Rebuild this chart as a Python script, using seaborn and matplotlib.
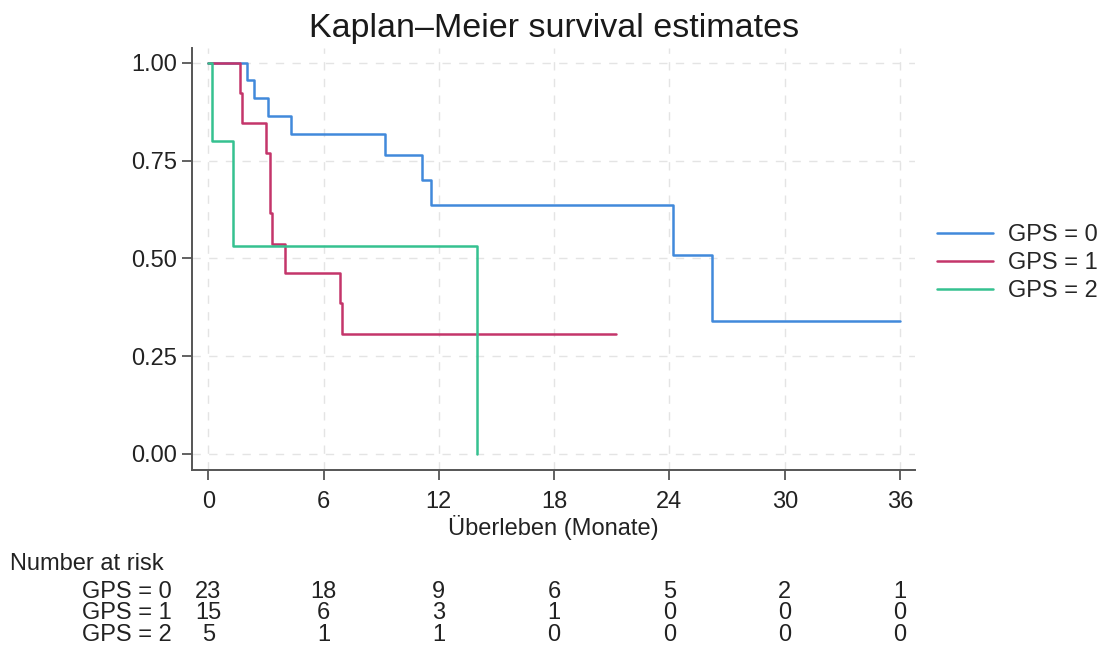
import numpy as np
import pandas as pd
import matplotlib
matplotlib.use("Agg")
import matplotlib.pyplot as plt
import matplotlib.transforms as mtransforms
import seaborn as sns

# ---- data ----
groups = ["GPS = 0", "GPS = 1", "GPS = 2"]
t_gps0 = [0, 2.0, 2.36, 3.09, 4.3, 9.2, 11.1, 11.6, 24.2, 26.2, 36.0]
s_gps0 = [1.0, 0.955, 0.909, 0.864, 0.818, 0.764, 0.700, 0.636, 0.509, 0.339, 0.339]
t_gps1 = [0, 1.66, 1.75, 2.98, 3.19, 3.30, 4.0, 6.87, 6.96, 21.2]
s_gps1 = [1.0, 0.923, 0.846, 0.769, 0.615, 0.538, 0.462, 0.385, 0.308, 0.308]
t_gps2 = [0, 0.19, 1.27, 14.0]
s_gps2 = [1.0, 0.800, 0.533, 0.0]

risk_times = [0, 6, 12, 18, 24, 30, 36]
risk_gps0 = [23, 18, 9, 6, 5, 2, 1]
risk_gps1 = [15, 6, 3, 1, 0, 0, 0]
risk_gps2 = [5, 1, 1, 0, 0, 0, 0]

xticks = [0, 6, 12, 18, 24, 30, 36]
yticks = [0.0, 0.25, 0.5, 0.75, 1.0]
colors = ["#4189db", "#c4356a", "#35c190"]

frames = []
for g, t, s in zip(groups, [t_gps0, t_gps1, t_gps2], [s_gps0, s_gps1, s_gps2]):
    frames.append(pd.DataFrame({"time": t, "surv": s, "group": g, "order": range(len(t))}))
df = pd.concat(frames, ignore_index=True)

sns.set_theme(style="white")
plt.rcParams["font.family"] = ["Liberation Sans", "DejaVu Sans"]

FS = 17
W, H = 1108, 660
fig = plt.figure(figsize=(W / 100, H / 100), dpi=100)
ax = fig.add_axes([192.3 / W, 1 - 470 / H, (915 - 192.3) / W, (470 - 48) / H])

sns.lineplot(data=df, x="time", y="surv", hue="group", palette=colors,
             estimator=None, sort=False, drawstyle="steps-post",
             linewidth=1.8, ax=ax, legend=True)

ax.set_xlim(-0.83, 36.78)
ax.set_ylim(-0.041, 1.038)
ax.set_xticks(xticks)
ax.set_xticklabels([str(v) for v in xticks])
ax.set_yticks(yticks)
ax.set_yticklabels([f"{v:.2f}" for v in yticks])
ax.tick_params(axis="both", which="major", direction="out", length=7, width=1.3,
               color="#555555", labelsize=FS, labelcolor="#222222",
               bottom=True, left=True)
ax.tick_params(axis="x", pad=8)
ax.tick_params(axis="y", pad=4)

ax.grid(True, color="#e4e4e4", linestyle=(0, (6, 6)), linewidth=1.0)
ax.set_axisbelow(True)
for side in ["top", "right"]:
    ax.spines[side].set_visible(False)
for side in ["left", "bottom"]:
    ax.spines[side].set_color("#555555")
    ax.spines[side].set_linewidth(1.4)

ax.set_xlabel("")
ax.set_ylabel("")
fig.text(554 / W, 1 - 29 / H, "Kaplan\u2013Meier survival estimates",
         ha="center", va="center", fontsize=24.5, color="#1a1a1a")
fig.text(553.5 / W, 1 - 528 / H, "\u00dcberleben (Monate)",
         ha="center", va="center", fontsize=FS, color="#222222")

handles, labels = ax.get_legend_handles_labels()
leg = ax.legend(handles, labels, loc="center left", bbox_to_anchor=(1.017, 0.49),
                frameon=False, fontsize=FS, handlelength=2.4, handletextpad=0.6,
                labelspacing=0.25, borderaxespad=0)
for h in leg.get_lines():
    h.set_linewidth(1.8)

# ---- number at risk table ----
fig.text(10 / W, 1 - 564 / H, "Number at risk", ha="left", va="center",
         fontsize=FS, color="#222222")
trans = mtransforms.blended_transform_factory(ax.transData, fig.transFigure)
row_y = [592, 613, 635]
for g, counts, yy in zip(groups, [risk_gps0, risk_gps1, risk_gps2], row_y):
    fig.text(172 / W, 1 - yy / H, g, ha="right", va="center", fontsize=FS, color="#222222")
    for tt, n in zip(risk_times, counts):
        ax.text(tt, 1 - yy / H, str(n), transform=trans, ha="center", va="center",
                fontsize=FS, color="#222222", clip_on=False)

fig.savefig("out.png", dpi=100, facecolor="white")
